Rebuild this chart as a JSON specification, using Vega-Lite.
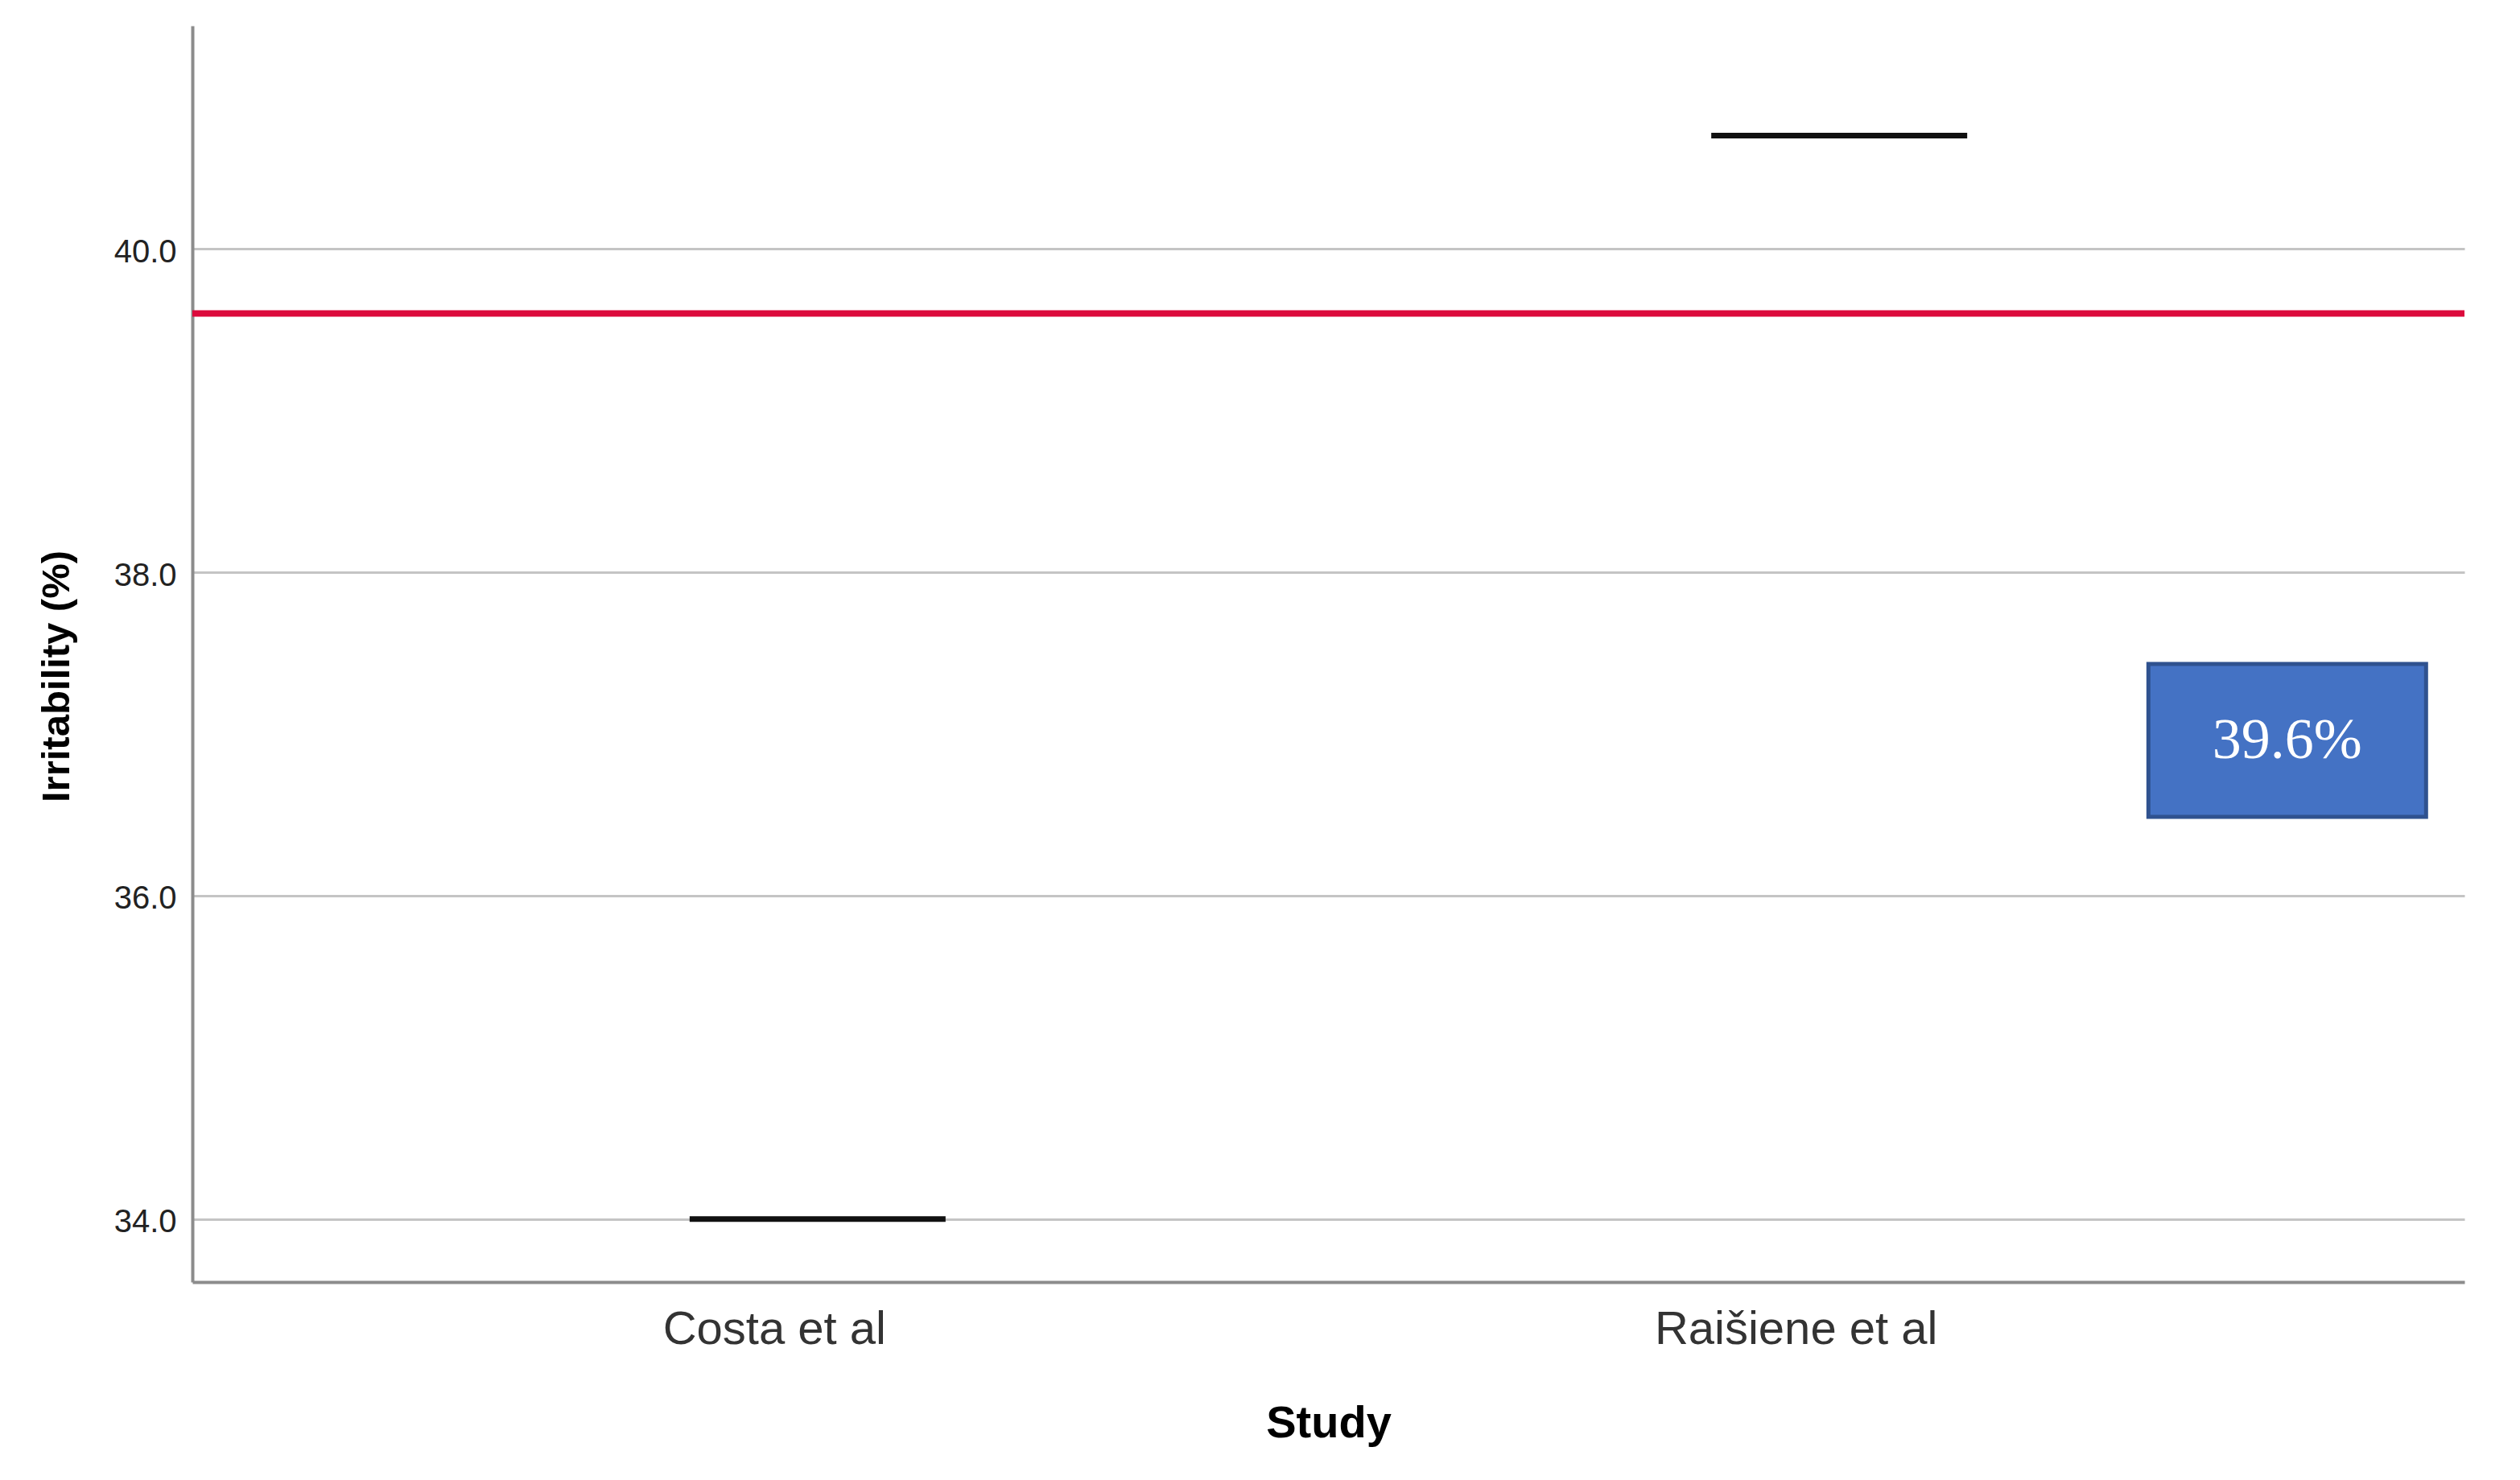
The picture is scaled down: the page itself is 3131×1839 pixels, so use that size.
{
  "$schema": "https://vega.github.io/schema/vega-lite/v6.json",
  "width": 2823,
  "height": 1561,
  "autosize": {"type": "none"},
  "padding": {"left": 239, "top": 32, "right": 69, "bottom": 246},
  "background": "white",
  "config": {"view": {"stroke": null}, "font": "Liberation Sans"},
  "datasets": {
    "studies": [
      {"study": "Costa et al", "irritability": 34.0},
      {"study": "Raišiene et al", "irritability": 40.7}
    ],
    "pooled": [
      {"pooled": 39.6, "label": "39.6%", "pos": 0.922, "level": 36.96}
    ]
  },
  "layer": [
    {
      "data": {"name": "studies"},
      "mark": {"type": "tick", "color": "#111111", "opacity": 1, "thickness": 7, "size": 318},
      "encoding": {
        "x": {
          "field": "study",
          "type": "nominal",
          "title": "Study",
          "scale": {"type": "point", "padding": 0.612},
          "axis": {
            "labelAngle": 0,
            "labelLimit": 0,
            "ticks": false,
            "grid": false,
            "domainColor": "#8c8c8c",
            "domainWidth": 4,
            "labelFontSize": 58,
            "labelColor": "#333333",
            "labelPadding": 30,
            "labelOffset": -54,
            "titleFontSize": 56,
            "titleFontWeight": "bold",
            "titleColor": "#000000",
            "titlePadding": 60
          }
        },
        "y": {
          "field": "irritability",
          "type": "quantitative",
          "title": "Irritability (%)",
          "scale": {"domain": [33.61, 41.38], "zero": false, "nice": false},
          "axis": {
            "values": [34, 36, 38, 40],
            "format": ".1f",
            "grid": true,
            "gridColor": "#c4c4c4",
            "gridWidth": 3,
            "domainColor": "#8c8c8c",
            "domainWidth": 4,
            "ticks": false,
            "labelFontSize": 40,
            "labelColor": "#222222",
            "labelPadding": 20,
            "labelOffset": 4,
            "titleFontSize": 49,
            "titleFontWeight": "bold",
            "titleColor": "#000000",
            "titlePadding": 46,
            "titleY": 808
          }
        }
      }
    },
    {
      "data": {"name": "pooled"},
      "mark": {"type": "rule", "color": "#DC0A3C", "strokeWidth": 8},
      "encoding": {
        "y": {"field": "pooled", "type": "quantitative", "scale": {"domain": [33.61, 41.38], "zero": false, "nice": false}}
      }
    },
    {
      "data": {"name": "pooled"},
      "encoding": {
        "x": {"field": "pos", "type": "quantitative", "scale": {"domain": [0, 1], "zero": false, "nice": false}, "axis": null},
        "y": {"field": "level", "type": "quantitative", "scale": {"domain": [33.61, 41.38], "zero": false, "nice": false}}
      },
      "layer": [
        {"mark": {"type": "rect", "width": 345, "height": 190, "fill": "#4472C4", "stroke": "#2F528F", "strokeWidth": 5}},
        {
          "mark": {"type": "text", "font": "Liberation Serif", "fontSize": 72, "color": "white", "align": "center", "baseline": "middle"},
          "encoding": {"text": {"field": "label"}}
        }
      ]
    }
  ],
  "resolve": {"scale": {"x": "independent"}}
}
